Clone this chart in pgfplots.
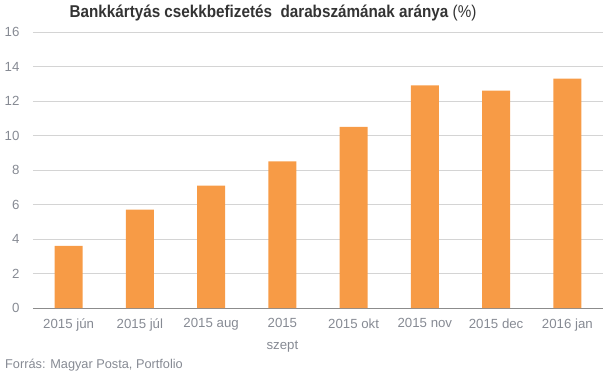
\documentclass[border=0pt]{standalone}
\usepackage{fontspec}
\setmainfont{Liberation Sans}
\usepackage{pgfplots}
\pgfplotsset{compat=1.18}
\definecolor{barc}{HTML}{F79B46}
\definecolor{tickc}{HTML}{868A93}
\definecolor{gridc}{HTML}{D4D4D4}
\definecolor{titlec}{HTML}{333333}
\begin{document}
\begin{tikzpicture}[x=1bp,y=1bp]
\useasboundingbox (-33,-70) rectangle (572,308);
\begin{axis}[
  at={(0,0)}, anchor=south west,
  scale only axis, width=570bp, height=276bp,
  ymin=0, ymax=16, ytick={0,2,...,16},
  xmin=-0.5, xmax=7.5,
  xtick={0,...,7},
  xticklabels={2015 jún,2015 júl,2015 aug,{2015\\szept},2015 okt,2015 nov,2015 dec,2016 jan},
  x tick label style={align=center, font=\fontsize{13.3}{22}\selectfont, text=tickc, yshift=-7bp},
  y tick label style={font=\fontsize{13.3}{16}\selectfont, text=tickc, xshift=-10bp},
  /pgf/number format/assume math mode=true,
  major tick length=0pt,
  axis x line*=bottom, axis y line*=left,
  y axis line style={draw=none},
  x axis line style={draw=gray!90, line width=0.8pt, -},
  ymajorgrids, grid style={gridc, line width=0.8pt},
  ybar, bar width=28bp,
  clip=false,
]
\addplot[fill=barc, draw=none] coordinates {(0,3.6) (1,5.7) (2,7.1) (3,8.5) (4,10.5) (5,12.9) (6,12.6) (7,13.3)};
\end{axis}
\node[anchor=base, text=titlec, font=\fontsize{15.3}{18}\selectfont] at (240,290) {\scalebox{1}[1.12]{\textbf{Bankkártyás csekkbefizetés\ \ darabszámának aránya} (\%)}};
\node[anchor=base west, text=tickc, font=\fontsize{12.8}{15}\selectfont, inner sep=0pt] at (-28,-60) {Forrás: Magyar Posta, Portfolio};
\end{tikzpicture}
\end{document}
